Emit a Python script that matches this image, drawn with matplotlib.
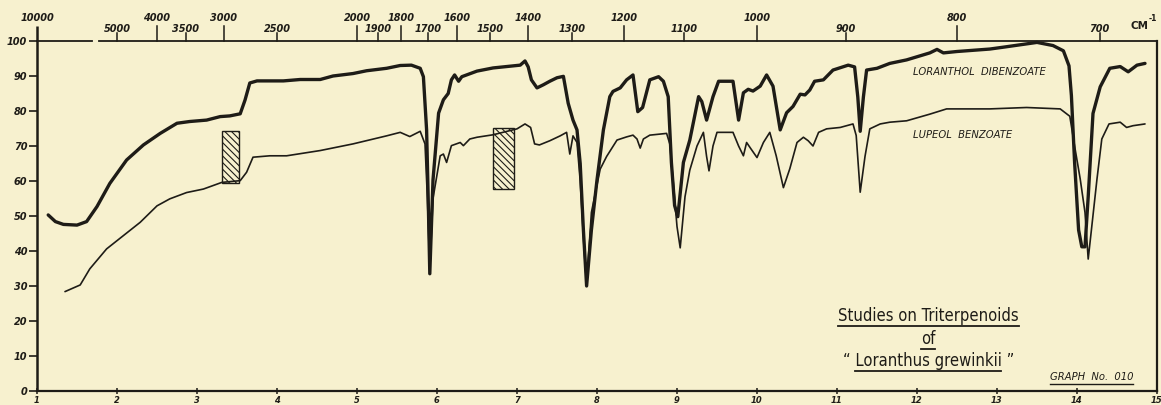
import matplotlib
matplotlib.use("Agg")
import matplotlib.pyplot as plt
from matplotlib.patches import Rectangle
from matplotlib.lines import Line2D
from matplotlib import font_manager as fm

# ---------------- data ----------------
loranthol_um = [1.14, 1.23, 1.33, 1.50, 1.62, 1.75, 1.91, 2.12, 2.33, 2.54, 2.75, 2.91, 3.12, 3.29,
                3.41, 3.54, 3.60, 3.66, 3.75, 4.08, 4.29, 4.54, 4.70, 4.95, 5.12, 5.37, 5.54, 5.68,
                5.79, 5.83, 5.87, 5.89, 5.91, 5.95, 6.02, 6.08, 6.14, 6.18, 6.22, 6.27, 6.31, 6.37,
                6.50, 6.70, 6.91, 7.04, 7.10, 7.14, 7.18, 7.25, 7.33, 7.41, 7.50, 7.58, 7.64, 7.70,
                7.75, 7.79, 7.83, 7.87, 7.93, 8.00, 8.08, 8.16, 8.20, 8.29, 8.37, 8.45, 8.51, 8.57,
                8.66, 8.77, 8.83, 8.89, 8.93, 8.97, 9.01, 9.08, 9.16, 9.22, 9.27, 9.31, 9.37, 9.45,
                9.52, 9.70, 9.77, 9.83, 9.89, 9.95, 10.04, 10.12, 10.20, 10.29, 10.37, 10.45, 10.54,
                10.60, 10.66, 10.72, 10.83, 10.95, 11.14, 11.22, 11.26, 11.29, 11.33, 11.37, 11.50,
                11.66, 11.87, 12.16, 12.25, 12.33, 12.50, 12.91, 13.10, 13.50, 13.70, 13.83, 13.90,
                13.93, 13.97, 14.02, 14.06, 14.10, 14.14, 14.20, 14.29, 14.41, 14.54, 14.64, 14.75,
                14.85]
loranthol_T = [50.3, 48.4, 47.6, 47.4, 48.4, 52.7, 59.3, 66.0, 70.3, 73.6, 76.5, 77.0, 77.4, 78.4,
               78.6, 79.2, 83.1, 88.0, 88.6, 88.6, 89.0, 89.0, 90.0, 90.7, 91.5, 92.2, 93.0, 93.1,
               92.2, 89.8, 74.6, 55.0, 33.5, 60.3, 79.4, 83.2, 85.0, 88.9, 90.3, 88.5, 89.8, 90.3,
               91.4, 92.3, 92.8, 93.1, 94.3, 92.6, 88.9, 86.6, 87.5, 88.5, 89.5, 89.9, 82.2, 77.4,
               74.6, 65.0, 46.0, 30.0, 46.0, 60.3, 74.6, 84.1, 85.6, 86.6, 88.9, 90.3, 79.8, 81.0,
               88.9, 89.8, 88.5, 84.1, 65.3, 53.0, 49.8, 65.3, 71.7, 78.4, 84.1, 82.7, 77.4, 84.1,
               88.5, 88.5, 77.4, 85.2, 86.2, 85.7, 87.1, 90.3, 87.1, 74.6, 79.5, 81.3, 84.8,
               84.6, 86.0, 88.5, 88.9, 91.7, 93.1, 92.6, 84.0, 74.2, 84.0, 91.7, 92.2,
               93.6, 94.6, 96.6, 97.6, 96.6, 97.0, 97.7, 98.3, 99.6, 98.7, 97.2, 92.9,
               84.4, 65.3, 46.0, 41.2, 41.2, 55.5, 79.3, 86.9, 92.2, 92.7, 91.2, 93.1,
               93.6]

lupeol_um = [1.35, 1.54, 1.66, 1.87, 2.08, 2.29, 2.50, 2.66, 2.87, 3.08, 3.31, 3.54, 3.62, 3.70,
             3.91, 4.12, 4.54, 4.95, 5.37, 5.54, 5.66, 5.79, 5.85, 5.88, 5.91, 5.95, 6.04, 6.08,
             6.12, 6.18, 6.29, 6.33, 6.41, 6.50, 6.70, 7.00, 7.10, 7.17, 7.22, 7.28, 7.41, 7.54,
             7.62, 7.66, 7.70, 7.75, 7.79, 7.84, 7.87, 7.93, 8.04, 8.12, 8.25, 8.37, 8.45, 8.50,
             8.54, 8.58, 8.66, 8.87, 8.91, 8.95, 9.00, 9.04, 9.10, 9.16, 9.25, 9.33, 9.37, 9.40,
             9.45, 9.50, 9.70, 9.77, 9.83, 9.87, 9.93, 10.00, 10.08, 10.16, 10.24, 10.33, 10.41,
             10.50, 10.58, 10.64, 10.70, 10.77, 10.87, 11.04, 11.20, 11.24, 11.29, 11.35, 11.41,
             11.54, 11.66, 11.87, 12.16, 12.37, 12.91, 13.37, 13.79, 13.91, 13.97, 14.04, 14.10,
             14.14, 14.18, 14.25, 14.31, 14.40, 14.54, 14.62, 14.70, 14.85]
lupeol_T = [28.4, 30.3, 34.9, 40.6, 44.4, 48.2, 52.9, 54.9, 56.7, 57.7, 59.6, 60.1, 62.5, 66.8,
            67.2, 67.2, 68.7, 70.6, 72.9, 73.9, 72.7, 74.2, 70.6, 55.0, 34.6, 55.0, 67.2, 67.7,
            65.3, 70.1, 71.0, 70.1, 72.0, 72.5, 73.2, 74.9, 76.3, 75.3, 70.6, 70.3, 71.5, 72.9,
            73.9, 67.7, 72.9, 71.0, 60.0, 40.0, 30.5, 51.0, 63.4, 67.0, 71.7, 72.6, 73.1, 72.0,
            69.4, 72.0, 73.1, 73.6, 70.6, 60.6, 47.0, 40.9, 55.5, 63.1, 70.0, 73.9, 67.0, 62.9,
            70.0, 73.9, 73.9, 70.0, 67.2, 71.0, 69.0, 66.7, 71.0, 73.9, 67.2, 58.1, 63.5,
            71.0, 72.5, 71.5, 70.0, 73.9, 74.9, 75.3, 76.3, 73.0, 56.8, 67.0, 74.9,
            76.3, 76.8, 77.2, 79.1, 80.6, 80.6, 81.0, 80.6, 78.5, 70.0, 60.6, 51.0,
            37.7, 46.0, 60.6, 72.0, 76.3, 76.8, 75.3, 75.8, 76.3]

micron_ticks = list(range(1, 16))
percent_ticks = list(range(0, 101, 10))
wavenumber_row1 = [10000, 4000, 3000, 2000, 1800, 1600, 1400, 1200, 1000, 800]
wavenumber_row2 = [5000, 3500, 2500, 1900, 1700, 1500, 1300, 1100, 900, 700]
hatch_x = [(3.31, 3.525), (6.70, 6.96)]
hatch_y = [(59.4, 74.4), (57.6, 75.2)]
series_names = ["LORANTHOL  DIBENZOATE", "LUPEOL  BENZOATE"]
title_lines = ["Studies on Triterpenoids", "of", "\u201c Loranthus grewinkii \u201d"]
graph_label = "GRAPH  No.  010"

# ---------------- style ----------------
W, H, DPI = 1161, 405, 100
BG = "#f7f1cf"
INK = "#1e1c17"

# pick a narrow font for the lettered title if one is installed
title_fp = fm.FontProperties(family="Liberation Sans")
names = {f.name for f in fm.fontManager.ttflist}
if "Liberation Sans Narrow" in names:
    title_fp = fm.FontProperties(family="Liberation Sans Narrow")
else:
    for f in fm.fontManager.ttflist:
        if f.name == "DejaVu Sans" and "Condensed" in f.fname and f.style == "normal" \
                and f.weight in (400, "normal") and "Bold" not in f.fname:
            title_fp = fm.FontProperties(fname=f.fname)
            break

fig = plt.figure(figsize=(W / DPI, H / DPI), dpi=DPI, facecolor=BG)
ax = fig.add_axes([37 / W, (H - 391) / H, (1157 - 37) / W, 350 / H])
ax.set_facecolor(BG)
ax.set_xlim(1, 15)
ax.set_ylim(0, 100)

for s in ["left", "top", "right"]:
    ax.spines[s].set_visible(False)
ax.spines["bottom"].set_color(INK)
ax.spines["bottom"].set_linewidth(1.6)

# frame lines drawn by hand (left axis extends above the top axis)
ax.plot([1, 1], [0, 104.3], color=INK, lw=1.8, clip_on=False, solid_capstyle="butt")
ax.plot([1, 1.69], [100, 100], color=INK, lw=1.3, clip_on=False)
ax.plot([1.775, 15], [100, 100], color=INK, lw=1.3, clip_on=False)
ax.plot([15, 15], [0, 100], color=INK, lw=1.6, clip_on=False)

# bottom micron ticks
ax.set_xticks(micron_ticks)
ax.set_xticklabels([str(v) for v in micron_ticks], fontsize=6, style="italic",
                   fontweight="bold", color=INK)
ax.tick_params(axis="x", direction="inout", length=5, width=1.1, pad=0.8, colors=INK)

# left percentage ticks
ax.set_yticks(percent_ticks)
ax.set_yticklabels([str(v) for v in percent_ticks], fontsize=7, style="italic",
                   fontweight="bold", color=INK)
ax.tick_params(axis="y", direction="out", length=6, width=1.2, pad=1, colors=INK)

# top wavenumber scale
for wn in wavenumber_row1:
    u = 10000.0 / wn
    if wn != 10000:
        ax.plot([u, u], [100, 104.3], color=INK, lw=1.1, clip_on=False)
    ax.text(u, 106.6, str(wn), ha="center", va="center", fontsize=7, style="italic",
            fontweight="bold", color=INK, clip_on=False)
for wn in wavenumber_row2:
    u = 10000.0 / wn
    ax.plot([u, u], [100, 102.3], color=INK, lw=1.1, clip_on=False)
    ax.text(u, 103.5, str(wn), ha="center", va="center", fontsize=7, style="italic",
            fontweight="bold", color=INK, clip_on=False)
ax.text(14.67, 104.3, "CM", ha="left", va="center", fontsize=7.5, fontweight="bold",
        color=INK, clip_on=False)
ax.text(14.90, 106.5, "-1", ha="left", va="center", fontsize=5.5, fontweight="bold",
        color=INK, clip_on=False)

# spectra
ax.plot(loranthol_um, loranthol_T, color=INK, lw=2.4, solid_joinstyle="round",
        solid_capstyle="round", clip_on=False)
ax.plot(lupeol_um, lupeol_T, color=INK, lw=1.2, solid_joinstyle="round",
        solid_capstyle="round", clip_on=False)

# hatched boxes
plt.rcParams["hatch.linewidth"] = 0.8
for (x0, x1), (y0, y1) in zip(hatch_x, hatch_y):
    ax.add_patch(Rectangle((x0, y0), x1 - x0, y1 - y0, fill=False, hatch="\\\\\\\\\\",
                           edgecolor=INK, lw=1.0))

# series labels
ax.text(11.95, 91.1, series_names[0], ha="left", va="center", fontsize=7.2,
        style="italic", color=INK)
ax.text(11.95, 73.1, series_names[1], ha="left", va="center", fontsize=7.2,
        style="italic", color=INK)

# title block
t_props = dict(fontproperties=title_fp, color=INK, ha="center", va="center")
t1 = ax.text(12.14, 21.3, title_lines[0], **t_props)
t2 = ax.text(12.14, 14.8, title_lines[1], **t_props)
t3 = ax.text(12.14, 8.5, title_lines[2], **t_props)
for t in (t1, t2, t3):
    t.set_fontsize(12)
g = ax.text(13.66, 4.0, graph_label, ha="left", va="center", fontsize=7.2,
            style="italic", color=INK)

fig.canvas.draw()
r = fig.canvas.get_renderer()

# scale title to the reference width (~180 px)
bb = t1.get_window_extent(r)
fs = 12 * 180.0 / bb.width
for t in (t1, t2, t3):
    t.set_fontsize(fs)
fig.canvas.draw()


def underline(x0, x1, y, lw=1.3):
    fig.add_artist(Line2D([x0 / W, x1 / W], [y / H, y / H], transform=fig.transFigure,
                          color=INK, lw=lw))


for t in (t1, t2):
    b = t.get_window_extent(r)
    underline(b.x0, b.x1, b.y0 - 0.5)
b3 = t3.get_window_extent(r)
pre = ax.text(0, 0, "\u201c ", fontproperties=title_fp)
post = ax.text(0, 0, " \u201d", fontproperties=title_fp)
pre.set_fontsize(fs)
post.set_fontsize(fs)
wpre = pre.get_window_extent(r).width
wpost = post.get_window_extent(r).width
pre.remove()
post.remove()
underline(b3.x0 + wpre, b3.x1 - wpost, b3.y0 - 0.5)
bg = g.get_window_extent(r)
underline(bg.x0, bg.x1, bg.y0 - 1.5, lw=1.0)

fig.savefig("out.png", dpi=DPI, facecolor=BG)
